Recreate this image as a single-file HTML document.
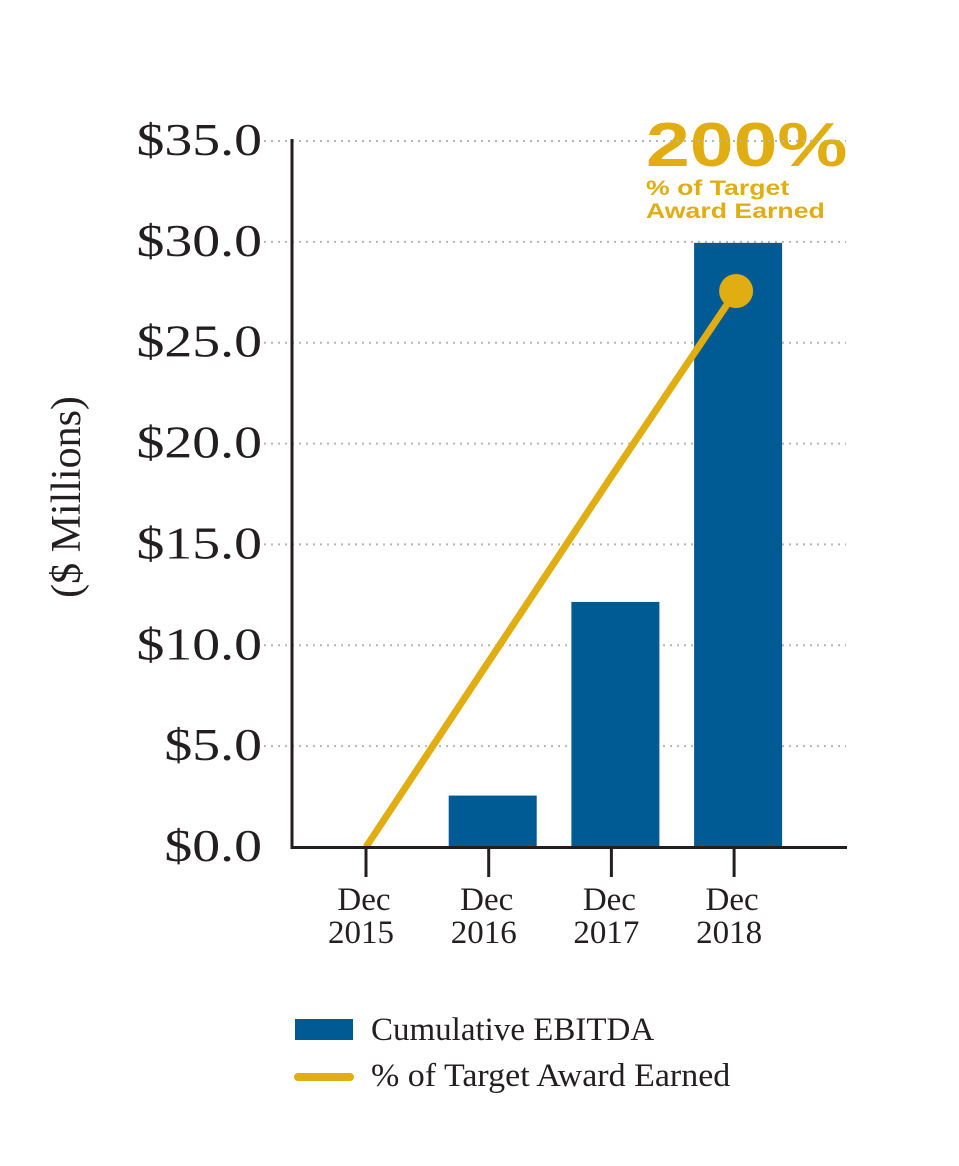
<!DOCTYPE html>
<html><head><meta charset="utf-8"><style>
html,body{margin:0;padding:0;background:#fff;}
svg{display:block;}
.t{font-family:"Liberation Serif",serif;fill:#231f20;}
.g{font-family:"Liberation Sans",sans-serif;font-weight:bold;fill:#e0ae12;}
</style></head><body>
<svg id="chart" width="959" height="1166" viewBox="0 0 959 1166">
<text class="t" x="0" y="0" font-size="42" text-anchor="middle" transform="translate(80,497) rotate(-90)">($ Millions)</text>
<g transform="translate(646,0) scale(1.27,1) translate(-646,0)">
<text class="g" x="646" y="166" font-size="62">200%</text>
<text class="g" x="646" y="195" font-size="21">% of Target</text>
<text class="g" x="646" y="218" font-size="21">Award Earned</text>
</g>
<g id="grid"></g><g id="bars"></g><g id="line"></g><g id="axes"></g>
<rect x="295" y="1019" width="58" height="21" fill="#005a94"/>
<text class="t" x="371" y="1040" font-size="33">Cumulative EBITDA</text>
<line x1="298" y1="1077" x2="350" y2="1077" stroke="#e0ae12" stroke-width="8" stroke-linecap="round"/>
<text class="t" x="371" y="1086" font-size="33" transform="translate(371,0) scale(1.03,1) translate(-371,0)">% of Target Award Earned</text>
</svg>
<script>
const categories=["Dec|2015","Dec|2016","Dec|2017","Dec|2018"];
const ebitda=[0,2.55,12.15,29.95];
const awardPct=[0,66.7,133.3,200];
const yTicks=[0,5,10,15,20,25,30,35];
const yTickLabels=["$0.0","$5.0","$10.0","$15.0","$20.0","$25.0","$30.0","$35.0"];
const NS="http://www.w3.org/2000/svg";
function y(v){return 847-v*(706/35);}
function yPct(p){return 847-p*(556/200);}
function x(i){return 366+i*122.7;}
function mk(tag,attrs,parent){const e=document.createElementNS(NS,tag);for(const k in attrs)e.setAttribute(k,attrs[k]);document.getElementById(parent).appendChild(e);return e;}
yTicks.forEach((v,i)=>{
  if(v>0){const l=mk("line",{x1:264,x2:846,y1:y(v),y2:y(v),stroke:"#b5b5b5","stroke-width":2,"stroke-dasharray":"2 5"},"grid");
  
  }
  const t=mk("text",{x:262,y:y(v)+14,"font-size":45,"text-anchor":"end",class:"t",transform:"translate(262,0) scale(1.24,1) translate(-262,0)"},"grid");
  t.textContent=yTickLabels[i];
  
  
});
ebitda.forEach((v,i)=>{
  if(v<=0)return;
  const r=mk("rect",{x:x(i)-40,y:y(v),width:88,height:847-y(v),fill:"#005a94"},"bars");
  
  
});
const pts=awardPct.map((p,i)=>[x(i)+(i==3?2:0),yPct(p)]);
const pl=mk("polyline",{points:pts.map(p=>p.join(",")).join(" "),fill:"none",stroke:"#e0ae12","stroke-width":7,"stroke-linejoin":"round"},"line");


const last=pts[pts.length-1];
const c=mk("circle",{cx:last[0],cy:last[1],r:17,fill:"#e0ae12"},"line");


const ya=mk("line",{x1:292,x2:292,y1:139,y2:849,stroke:"#231f20","stroke-width":3},"axes");


const xa=mk("line",{x1:291,x2:847,y1:847.5,y2:847.5,stroke:"#231f20","stroke-width":3},"axes");


categories.forEach((c2,i)=>{
  const tk=mk("line",{x1:x(i),x2:x(i),y1:847,y2:877,stroke:"#231f20","stroke-width":3},"axes");
  
  
  const parts=c2.split("|");
  const cx=x(i)-5;
  const t1=mk("text",{x:cx+3,y:910,"font-size":33,"text-anchor":"middle",class:"t"},"axes");
  t1.textContent=parts[0];
  
  
  const t2=mk("text",{x:cx,y:943,"font-size":33,"text-anchor":"middle",class:"t"},"axes");
  t2.textContent=parts[1];
  
  
});
</script>
</body></html>
